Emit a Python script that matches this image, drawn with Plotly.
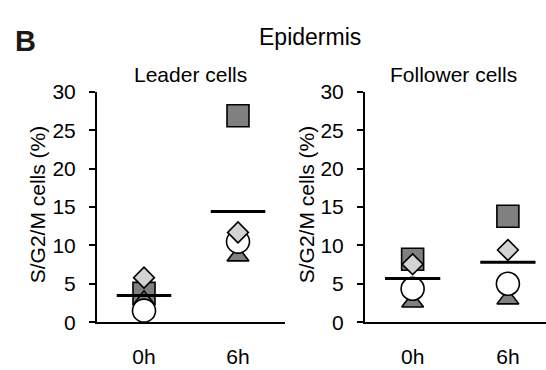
import plotly.graph_objects as go

times = ["0h", "6h"]
leader_square = [3.75, 26.9]
leader_triangle = [2.85, 8.6]
leader_circle = [1.5, 10.5]
leader_diamond = [5.8, 11.7]
follower_square = [8.2, 13.8]
follower_triangle = [2.6, 3.0]
follower_circle = [4.35, 5.0]
follower_diamond = [7.55, 9.4]
y_ticks = [0, 5, 10, 15, 20, 25, 30]
y_title = "S/G2/M cells (%)"

FONT = "Liberation Sans, Arial, sans-serif"
W, H = 546, 370

fig = go.Figure()

def add_panel(sq, tri, cir, dia, xa, ya):
    xs = list(range(len(times)))
    series = [
        (sq, "square", "#808080", 22),
        (tri, "triangle-up", "#808080", 19),
        (cir, "circle", "white", 23),
        (dia, "diamond", "#d3d3d3", 16),
    ]
    for vals, sym, col, size in series:
        fig.add_trace(go.Scatter(
            x=xs, y=vals, mode="markers", xaxis=xa, yaxis=ya,
            marker=dict(symbol=sym, color=col, size=size,
                        line=dict(color="black", width=1.6)),
            cliponaxis=False, showlegend=False, hoverinfo="skip"))
    for i in xs:
        vals = [sq[i], tri[i], cir[i], dia[i]]
        m = sum(vals) / len(vals)
        fig.add_trace(go.Scatter(
            x=[i - 0.29, i + 0.29], y=[m, m], mode="lines", xaxis=xa, yaxis=ya,
            line=dict(color="black", width=3), cliponaxis=False,
            showlegend=False, hoverinfo="skip"))

add_panel(leader_square, leader_triangle, leader_circle, leader_diamond, "x", "y")
add_panel(follower_square, follower_triangle, follower_circle, follower_diamond, "x2", "y2")

ydom = [1 - 330.7 / H, 1 - 85.3 / H]
xcommon = dict(showline=True, linecolor="black", linewidth=2, ticks="",
               tickvals=[0, 1], ticktext=times, showgrid=False, zeroline=False,
               tickfont=dict(family=FONT, size=21, color="black"),
               ticklabelstandoff=15, fixedrange=True)
ycommon = dict(showline=True, linecolor="black", linewidth=2, ticks="outside",
               ticklen=6, tickwidth=2, tickcolor="black", tickvals=y_ticks,
               range=[0, 30], showgrid=False, zeroline=False,
               tickfont=dict(family=FONT, size=21, color="black"),
               ticklabelstandoff=9, domain=ydom, fixedrange=True)

def ann(text, xpx, ypx, size, angle=0, anchor="center"):
    return dict(text=text, x=xpx / W, y=1 - ypx / H, xref="paper", yref="paper",
                xanchor=anchor, yanchor="middle", showarrow=False, textangle=angle,
                font=dict(family=FONT, size=size, color="black"))

fig.update_layout(
    width=W, height=H,
    margin=dict(l=0, r=0, t=0, b=0),
    paper_bgcolor="white", plot_bgcolor="white",
    xaxis=dict(xcommon, domain=[97 / W, 285 / W], range=[-0.5, 1.5], anchor="y"),
    yaxis=dict(ycommon, anchor="x"),
    xaxis2=dict(xcommon, domain=[365 / W, 1.0], range=[-0.5, 1.4], anchor="y2"),
    yaxis2=dict(ycommon, anchor="x2"),
    annotations=[
        dict(ann("<b>B</b>", 13, 31, 29, anchor="left"), font=dict(family=FONT, size=29, color="#1a1a1a")),
        ann("Epidermis", 309.5, 27, 23),
        ann("Leader cells", 190.5, 66.5, 21),
        ann("Follower cells", 453, 66.5, 21),
        ann(y_title, 37, 205, 21, angle=-90),
        ann(y_title, 306, 205, 21, angle=-90),
    ],
)

fig.write_html("out.html", config={"displayModeBar": False},
               post_script="document.body.style.margin='0';document.body.style.overflow='hidden';")
